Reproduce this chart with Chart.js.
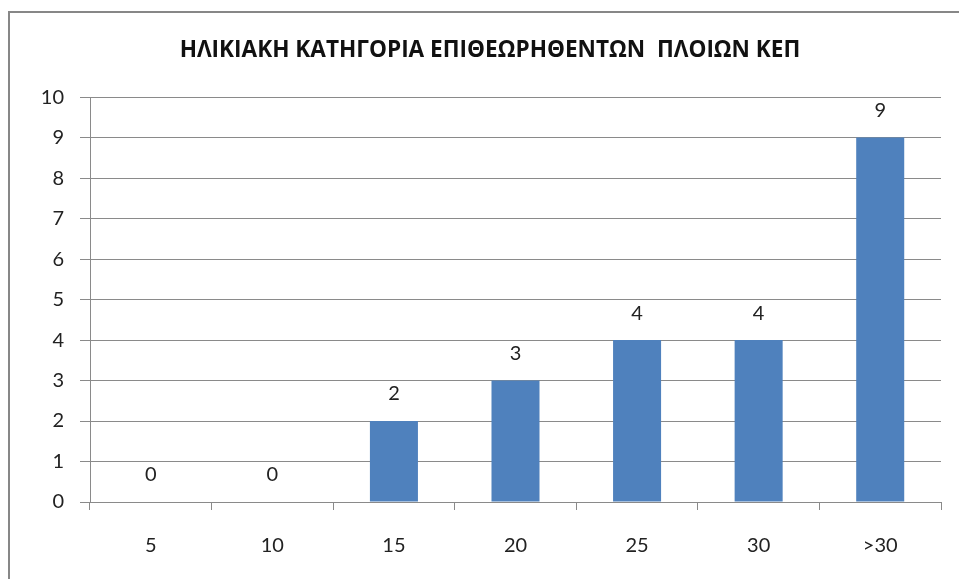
<!DOCTYPE html>
<html>
<head>
<meta charset="utf-8">
<script src="https://cdn.jsdelivr.net/npm/chart.js@4"></script>
<style>
  html, body { margin: 0; padding: 0; background: #fff; overflow: hidden; }
  #wrap { position: relative; width: 959px; height: 579px; }
  #frame { position: absolute; left: 8px; top: 11px; width: 1000px; height: 700px; border: 2px solid #878787; box-sizing: border-box; pointer-events: none; }
  canvas { position: absolute; left: 0; top: 0; }
</style>
</head>
<body>
<div id="wrap">
  <canvas id="c" width="959" height="579"></canvas>
  <div id="frame"></div>
</div>
<script>
const chartTitle = 'ΗΛΙΚΙΑΚΗ ΚΑΤΗΓΟΡΙΑ ΕΠΙΘΕΩΡΗΘΕΝΤΩΝ  ΠΛΟΙΩΝ ΚΕΠ';
const categories = ['5', '10', '15', '20', '25', '30', '>30'];
const shipCounts = [0, 0, 2, 3, 4, 4, 9];
const yTicks = [0, 1, 2, 3, 4, 5, 6, 7, 8, 9, 10];

const FONT = 'Lato, "Open Sans", sans-serif';
const TITLE_FONT = '"Open Sans", Lato, sans-serif';
const gridColor = '#8a8a8a';

const valueLabels = {
  id: 'valueLabels',
  afterDatasetsDraw(chart) {
    const ctx = chart.ctx;
    const meta = chart.getDatasetMeta(0);
    ctx.save();
    ctx.font = '20px ' + FONT;
    ctx.fillStyle = '#222';
    ctx.textAlign = 'center';
    ctx.textBaseline = 'middle';
    meta.data.forEach((bar, i) => {
      ctx.fillText(String(shipCounts[i]), bar.x, bar.y - 27);
    });
    ctx.restore();
  }
};

new Chart(document.getElementById('c'), {
  type: 'bar',
  data: {
    labels: categories,
    datasets: [{
      data: shipCounts,
      backgroundColor: '#4F81BD',
      borderWidth: 0,
      categoryPercentage: 1,
      barPercentage: 0.395
    }]
  },
  options: {
    responsive: false,
    animation: false,
    devicePixelRatio: 1,
    layout: { padding: { left: 39, right: 18, top: 37, bottom: 0 } },
    plugins: {
      legend: { display: false },
      tooltip: { enabled: false },
      title: {
        display: true,
        text: chartTitle,
        color: '#111',
        font: { family: TITLE_FONT, size: 22.6, weight: 'bold' },
        padding: { top: 0, bottom: 33 }
      }
    },
    scales: {
      x: {
        afterFit(scale) { scale.height = 77; },
        grid: { display: true, drawOnChartArea: false, drawTicks: true, tickLength: 8, color: gridColor, offset: true },
        border: { display: true, color: gridColor },
        ticks: { color: '#222', font: { family: FONT, size: 20 }, padding: 24 }
      },
      y: {
        min: 0,
        max: 10,
        afterFit(scale) { scale.width = 51; },
        afterBuildTicks(scale) { scale.ticks = yTicks.map(v => ({ value: v })); },
        grid: { color: gridColor, tickLength: 10, drawTicks: true },
        border: { display: true, color: gridColor },
        ticks: { color: '#222', font: { family: FONT, size: 20 }, padding: 16 }
      }
    }
  },
  plugins: [valueLabels]
});
</script>
</body>
</html>
